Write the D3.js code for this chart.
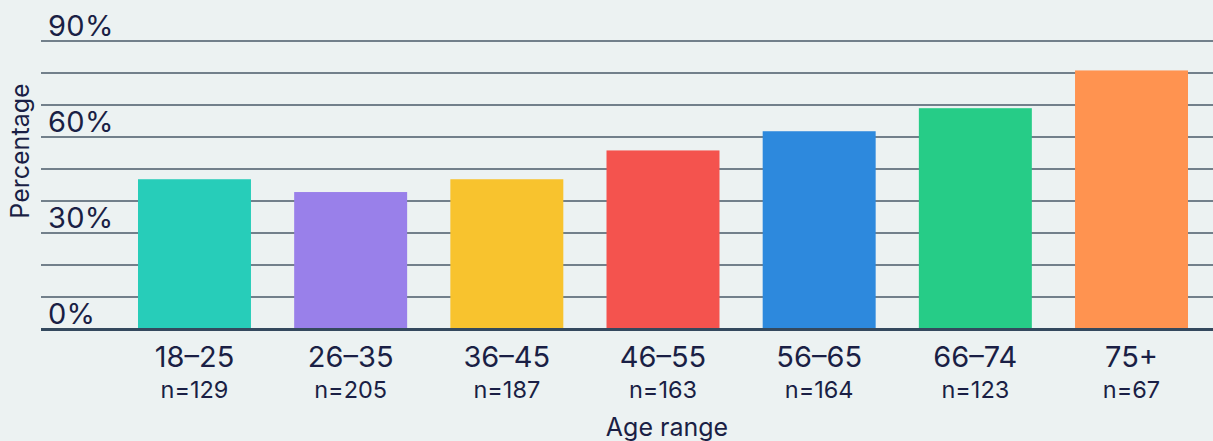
<!DOCTYPE html>
<html>
<head>
<meta charset="utf-8">
<script src="https://cdn.jsdelivr.net/npm/d3@7"></script>
<style>
html,body{margin:0;padding:0;background:#ecf2f2;}
svg{display:block;}
text{font-family:Inter,"Noto Sans",sans-serif;fill:#1a1f45;}
</style>
</head>
<body>
<svg id="chart" width="1213" height="441"></svg>
<script>
const categories = ["18\u201325","26\u201335","36\u201345","46\u201355","56\u201365","66\u201374","75+"];
const sampleSizes = ["n=129","n=205","n=187","n=163","n=164","n=123","n=67"];
const values = [46.8, 42.8, 46.8, 55.8, 61.8, 69.0, 80.8];
const colors = ["#27cdb9","#9980ea","#f8c32e","#f4534e","#2d89dd","#26cc87","#ff9350"];
const gridTicks = [0,10,20,30,40,50,60,70,80,90];
const labelTicks = [0,30,60,90];

const svg = d3.select("#chart");
const W = 1213;
const y = d3.scaleLinear().domain([0,90]).range([329,41]);
const x = d3.scaleBand().domain(categories).range([116.4,1209.6]).paddingInner(0.2766).paddingOuter(0.1383);

// gridlines
svg.append("g").selectAll("line").data(gridTicks.filter(d=>d>0)).join("line")
  .attr("x1",41).attr("x2",W)
  .attr("y1",d=>y(d)).attr("y2",d=>y(d))
  .attr("stroke","#4a5a68").attr("stroke-width",1.6);

// tick labels
svg.append("g").selectAll("text").data(labelTicks).join("text")
  .attr("x",48).attr("y",d=>y(d)-5)
  .attr("font-size",29).attr("letter-spacing",0.3)
  .text(d=>d+"%");

// bars
svg.append("g").selectAll("rect").data(values).join("rect")
  .attr("x",(d,i)=>x(categories[i]))
  .attr("width",x.bandwidth())
  .attr("y",d=>y(d))
  .attr("height",d=>y(0)-y(d))
  .attr("fill",(d,i)=>colors[i]);

// baseline
svg.append("line").attr("x1",41).attr("x2",W).attr("y1",y(0)+0.5).attr("y2",y(0)+0.5)
  .attr("stroke","#34495e").attr("stroke-width",3);

// x axis labels
const xa = svg.append("g").attr("transform",`translate(0,${y(0)})`)
  .call(d3.axisBottom(x).tickSize(0).tickPadding(0));
xa.select(".domain").remove();
xa.selectAll(".tick text").remove();
xa.selectAll(".tick").append("text")
  .attr("y",38).attr("text-anchor","middle").attr("font-size",29)
  .text(d=>d);
xa.selectAll(".tick").append("text")
  .attr("y",69).attr("text-anchor","middle").attr("font-size",23.5)
  .text((d,i)=>sampleSizes[i]);

// axis titles
svg.append("text").attr("x",667).attr("y",436).attr("text-anchor","middle")
  .attr("font-size",25).text("Age range");
svg.append("text").attr("transform","translate(29,151) rotate(-90)")
  .attr("text-anchor","middle").attr("font-size",25).text("Percentage");
</script>
</body>
</html>
